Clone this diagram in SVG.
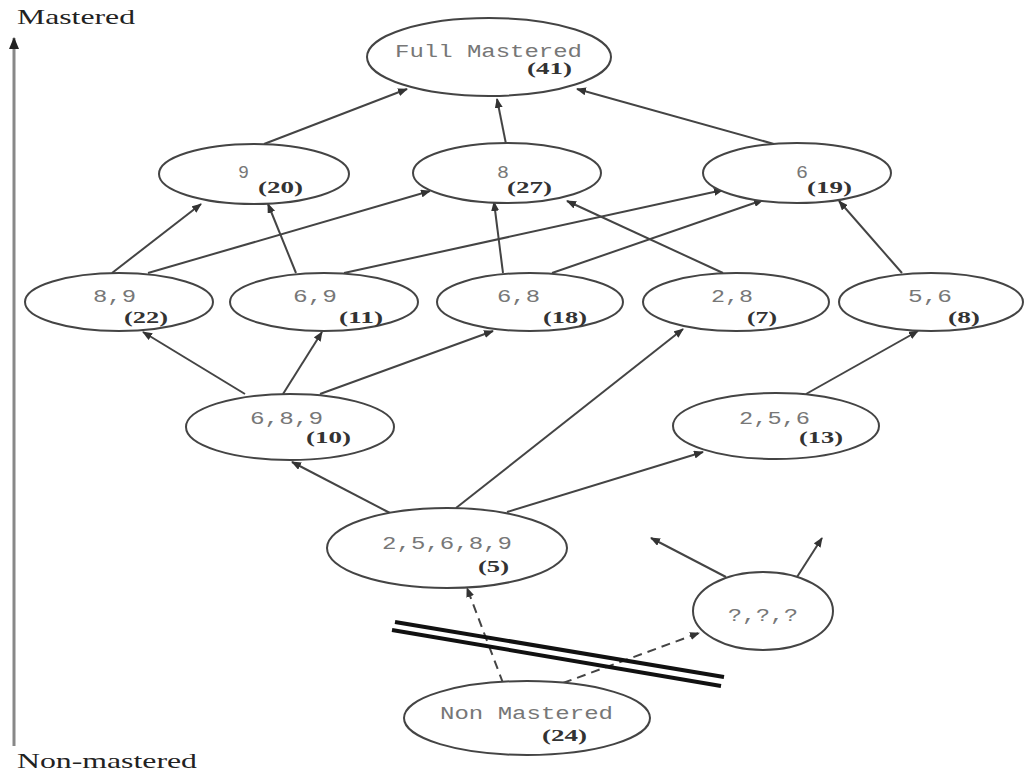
<svg xmlns="http://www.w3.org/2000/svg" width="1030" height="776" viewBox="0 0 1030 776">
<style>
.node ellipse{fill:#fff;stroke:#444;stroke-width:2}
.lbl{font-family:"Liberation Mono","DejaVu Sans Mono",monospace;font-size:18px;fill:#777}
.cnt{font-family:"Liberation Serif","Times New Roman",serif;font-size:17px;font-weight:bold;fill:#333}
.axis{font-family:"Liberation Serif","Times New Roman",serif;font-size:21px;fill:#222}
.edge{stroke:#444;stroke-width:2;fill:none;marker-end:url(#ah)}
.dash{stroke-dasharray:9 6}
</style>
<defs>
<marker id="ah" markerUnits="userSpaceOnUse" markerWidth="10" markerHeight="8" refX="9" refY="4" orient="auto">
<path d="M0,0 L10,4 L0,8 z" fill="#333"/>
</marker>
<marker id="axh" markerUnits="userSpaceOnUse" markerWidth="12" markerHeight="10" refX="11" refY="5" orient="auto">
<path d="M0,0 L12,5 L0,10 z" fill="#222"/>
</marker>
</defs>
<rect width="1030" height="776" fill="#fff"/>
<g id="axis">
<line x1="14" y1="746" x2="14" y2="38" stroke="#888" stroke-width="3" marker-end="url(#axh)"/>
<text class="axis" x="17" y="24" textLength="118" lengthAdjust="spacingAndGlyphs">Mastered</text>
<text class="axis" x="17" y="768" textLength="180" lengthAdjust="spacingAndGlyphs">Non-mastered</text>
</g>
<g id="connectors">
<line class="edge" x1="264" y1="144" x2="407" y2="89"/>
<line class="edge" x1="506" y1="144" x2="497" y2="99"/>
<line class="edge" x1="774" y1="144" x2="577" y2="89"/>
<line class="edge" x1="112" y1="273" x2="201" y2="204"/>
<line class="edge" x1="148" y1="273" x2="430" y2="191"/>
<line class="edge" x1="296" y1="273" x2="268" y2="204"/>
<line class="edge" x1="344" y1="273" x2="723" y2="190"/>
<line class="edge" x1="503" y1="273" x2="494" y2="202"/>
<line class="edge" x1="552" y1="273" x2="763" y2="200"/>
<line class="edge" x1="723" y1="273" x2="567" y2="201"/>
<line class="edge" x1="902" y1="273" x2="839" y2="201"/>
<line class="edge" x1="245" y1="394" x2="143" y2="332"/>
<line class="edge" x1="283" y1="394" x2="322" y2="332"/>
<line class="edge" x1="320" y1="394" x2="493" y2="331"/>
<line class="edge" x1="806" y1="394" x2="918" y2="331"/>
<line class="edge" x1="390" y1="513" x2="292" y2="462"/>
<line class="edge" x1="456" y1="508" x2="683" y2="329"/>
<line class="edge" x1="507" y1="512" x2="703" y2="452"/>
<line class="edge" x1="726" y1="577" x2="651" y2="538"/>
<line class="edge" x1="797" y1="577" x2="822" y2="538"/>
<line class="edge dash" x1="503" y1="683" x2="467" y2="588"/>
<line class="edge dash" x1="563" y1="683" x2="699" y2="633"/>
</g>
<g id="barrier" stroke="#111" stroke-width="4">
<line x1="395" y1="622" x2="724" y2="677"/>
<line x1="392" y1="630" x2="721" y2="686"/>
</g>
<g id="n-full" class="node">
<ellipse cx="489" cy="57" rx="122" ry="39"/>
<text class="lbl" x="395" y="57" textLength="187" lengthAdjust="spacingAndGlyphs">Full Mastered</text>
<text class="cnt" x="527" y="74" textLength="45" lengthAdjust="spacingAndGlyphs">(41)</text>
</g>
<g id="n-9" class="node">
<ellipse cx="254" cy="174" rx="95" ry="30"/>
<text class="lbl" x="238" y="178" textLength="11" lengthAdjust="spacingAndGlyphs">9</text>
<text class="cnt" x="258" y="193" textLength="45" lengthAdjust="spacingAndGlyphs">(20)</text>
</g>
<g id="n-8" class="node">
<ellipse cx="507" cy="173" rx="94" ry="30"/>
<text class="lbl" x="497" y="178" textLength="12" lengthAdjust="spacingAndGlyphs">8</text>
<text class="cnt" x="507" y="193" textLength="45" lengthAdjust="spacingAndGlyphs">(27)</text>
</g>
<g id="n-6" class="node">
<ellipse cx="797" cy="173" rx="94" ry="30"/>
<text class="lbl" x="796" y="178" textLength="12" lengthAdjust="spacingAndGlyphs">6</text>
<text class="cnt" x="807" y="193" textLength="45" lengthAdjust="spacingAndGlyphs">(19)</text>
</g>
<g id="n-89" class="node">
<ellipse cx="119" cy="302" rx="94" ry="29"/>
<text class="lbl" x="93" y="302" textLength="43" lengthAdjust="spacingAndGlyphs">8,9</text>
<text class="cnt" x="124" y="323" textLength="44" lengthAdjust="spacingAndGlyphs">(22)</text>
</g>
<g id="n-69" class="node">
<ellipse cx="324" cy="302" rx="94" ry="29"/>
<text class="lbl" x="293" y="302" textLength="44" lengthAdjust="spacingAndGlyphs">6,9</text>
<text class="cnt" x="339" y="323" textLength="44" lengthAdjust="spacingAndGlyphs">(11)</text>
</g>
<g id="n-68" class="node">
<ellipse cx="530" cy="302" rx="93" ry="29"/>
<text class="lbl" x="497" y="302" textLength="43" lengthAdjust="spacingAndGlyphs">6,8</text>
<text class="cnt" x="543" y="323" textLength="44" lengthAdjust="spacingAndGlyphs">(18)</text>
</g>
<g id="n-28" class="node">
<ellipse cx="736" cy="302" rx="93" ry="29"/>
<text class="lbl" x="711" y="302" textLength="42" lengthAdjust="spacingAndGlyphs">2,8</text>
<text class="cnt" x="747" y="323" textLength="30" lengthAdjust="spacingAndGlyphs">(7)</text>
</g>
<g id="n-56" class="node">
<ellipse cx="931" cy="302" rx="92" ry="29"/>
<text class="lbl" x="908" y="302" textLength="44" lengthAdjust="spacingAndGlyphs">5,6</text>
<text class="cnt" x="948" y="323" textLength="32" lengthAdjust="spacingAndGlyphs">(8)</text>
</g>
<g id="n-689" class="node">
<ellipse cx="290" cy="427" rx="104" ry="33"/>
<text class="lbl" x="250" y="424" textLength="73" lengthAdjust="spacingAndGlyphs">6,8,9</text>
<text class="cnt" x="306" y="443" textLength="45" lengthAdjust="spacingAndGlyphs">(10)</text>
</g>
<g id="n-256" class="node">
<ellipse cx="776" cy="426" rx="103" ry="33"/>
<text class="lbl" x="739" y="424" textLength="71" lengthAdjust="spacingAndGlyphs">2,5,6</text>
<text class="cnt" x="799" y="443" textLength="44" lengthAdjust="spacingAndGlyphs">(13)</text>
</g>
<g id="n-25689" class="node">
<ellipse cx="447" cy="548" rx="120" ry="40"/>
<text class="lbl" x="382" y="549" textLength="130" lengthAdjust="spacingAndGlyphs">2,5,6,8,9</text>
<text class="cnt" x="478" y="572" textLength="31" lengthAdjust="spacingAndGlyphs">(5)</text>
</g>
<g id="n-unknown" class="node">
<ellipse cx="763" cy="611" rx="70" ry="39"/>
<text class="lbl" x="728" y="621" textLength="70" lengthAdjust="spacingAndGlyphs">?,?,?</text>
</g>
<g id="n-non" class="node">
<ellipse cx="527" cy="718" rx="123" ry="37"/>
<text class="lbl" x="440" y="719" textLength="173" lengthAdjust="spacingAndGlyphs">Non Mastered</text>
<text class="cnt" x="542" y="741" textLength="45" lengthAdjust="spacingAndGlyphs">(24)</text>
</g>
</svg>
